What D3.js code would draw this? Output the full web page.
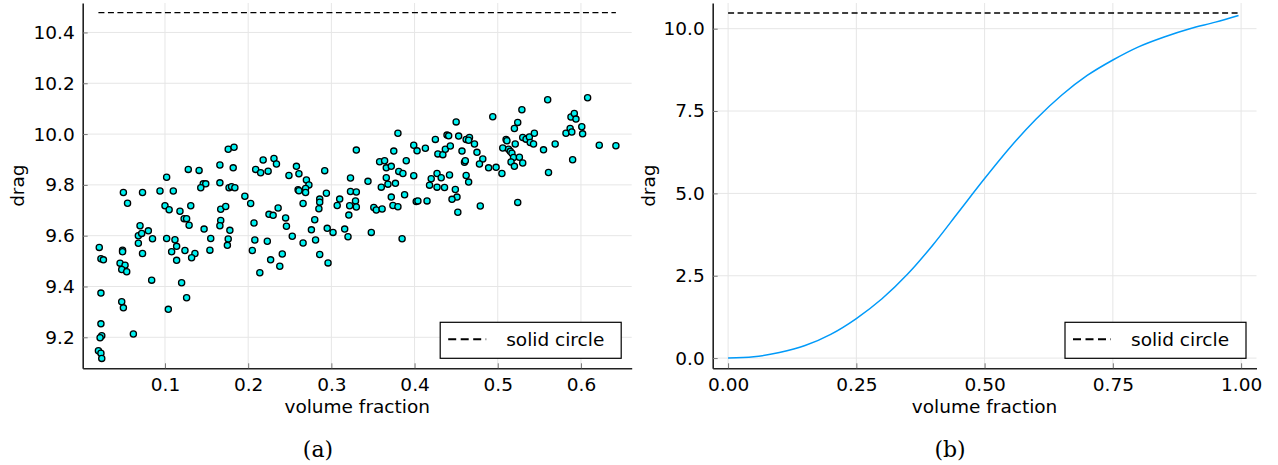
<!DOCTYPE html>
<html>
<head>
<meta charset="utf-8">
<script src="https://cdn.jsdelivr.net/npm/d3@7"></script>
<style>
  html, body { margin: 0; padding: 0; background: #fff; }
  svg { display: block; }
  text { font-family: "DejaVu Sans", sans-serif; fill: #000; }
</style>
</head>
<body>
<svg id="fig" width="1278" height="465"></svg>
<script>
// ---- sampled drag vs. volume fraction (random arrangements) ----
const volFrac = [
  0.102,0.128,0.141,0.166,0.050,0.073,0.094,0.110,0.055,0.146,0.149,0.143,0.166,0.100,0.105,0.118,0.131,0.167,0.123,0.126,0.129,0.167,0.166,0.147,0.070,
  0.080,0.068,0.072,0.021,0.023,0.026,0.049,0.049,0.046,0.052,0.048,0.054,0.068,0.073,0.085,0.102,0.112,0.114,0.108,0.114,0.124,0.136,0.132,0.155,0.154,
  0.084,0.120,0.023,0.048,0.050,0.126,0.104,0.023,0.024,0.022,0.062,0.020,0.023,0.024,
  0.176,0.183,0.182,0.177,0.180,0.184,0.173,0.218,0.231,0.234,0.209,0.215,0.224,0.258,0.261,0.249,0.292,0.270,0.273,0.269,0.260,0.261,0.269,0.196,0.203,
  0.266,0.286,0.286,0.285,0.294,0.310,0.307,0.330,0.323,0.323,0.330,0.329,0.330,0.322,0.321,0.225,0.230,0.236,0.245,0.246,0.280,0.207,0.276,0.295,0.316,
  0.178,0.176,0.175,0.208,0.205,0.223,0.214,0.227,0.241,0.238,0.253,0.266,0.281,0.286,0.296,0.302,0.320,
  0.380,0.450,0.494,0.399,0.403,0.413,0.425,0.439,0.441,0.453,0.462,0.466,0.465,0.472,0.375,0.358,0.364,0.366,0.372,0.390,0.381,0.386,0.366,0.368,0.377,
  0.360,0.344,0.399,0.428,0.434,0.437,0.443,0.457,0.475,0.460,0.461,0.482,0.478,0.489,0.427,0.420,0.432,0.442,0.462,0.465,0.418,0.427,0.436,0.449,0.451,
  0.445,0.452,0.479,0.388,0.372,0.374,0.380,0.402,0.404,0.415,0.351,0.354,0.361,
  0.348,0.385,
  0.560,0.608,0.529,0.524,0.520,0.510,0.511,0.506,0.513,0.515,0.517,0.521,0.530,0.534,0.538,0.544,0.539,0.543,0.519,0.526,0.516,0.530,0.520,0.498,0.505,
  0.555,0.569,0.561,0.524,0.582,0.587,0.589,0.588,0.592,0.594,0.601,0.602,0.590,0.622,0.642
];
const dragSample = [
  9.830,9.861,9.857,9.878,9.770,9.770,9.776,9.776,9.728,9.804,9.804,9.789,9.808,9.718,9.702,9.696,9.718,9.704,9.667,9.667,9.641,9.660,9.639,9.626,9.639,
  9.619,9.600,9.609,9.554,9.509,9.505,9.543,9.537,9.492,9.484,9.467,9.458,9.570,9.530,9.588,9.589,9.584,9.558,9.537,9.503,9.542,9.530,9.513,9.589,9.543,
  9.425,9.415,9.374,9.340,9.316,9.356,9.310,9.253,9.206,9.198,9.213,9.147,9.137,9.117,
  9.940,9.948,9.867,9.789,9.793,9.789,9.715,9.898,9.904,9.882,9.861,9.848,9.854,9.873,9.844,9.837,9.856,9.819,9.800,9.786,9.781,9.777,9.770,9.755,9.727,
  9.727,9.744,9.732,9.706,9.767,9.744,9.719,9.937,9.827,9.774,9.772,9.737,9.713,9.718,9.681,9.684,9.680,9.709,9.670,9.637,9.663,9.650,9.623,9.629,9.626,
  9.621,9.587,9.562,9.583,9.542,9.578,9.454,9.505,9.528,9.480,9.598,9.571,9.583,9.526,9.493,9.613,9.596,
  10.003,10.048,10.068,9.956,9.934,9.944,9.979,9.996,9.993,9.992,9.979,9.987,9.976,9.961,9.933,9.891,9.895,9.867,9.873,9.895,9.853,9.845,9.828,9.803,9.806,
  9.791,9.814,9.836,9.922,9.919,9.940,9.953,9.933,9.928,9.889,9.895,9.902,9.882,9.867,9.845,9.824,9.828,9.839,9.837,9.811,9.799,9.791,9.790,9.782,9.752,
  9.743,9.692,9.717,9.761,9.752,9.719,9.714,9.735,9.737,9.737,9.711,9.701,9.705,
  9.613,9.588,
  10.135,10.143,10.096,10.046,10.022,9.979,9.974,9.945,9.940,9.932,9.925,9.961,9.987,9.980,9.989,10.003,9.967,9.961,9.908,9.909,9.890,9.886,9.873,9.869,9.845,
  9.938,9.961,9.849,9.731,10.003,10.022,10.008,10.067,10.081,10.059,10.029,10.001,9.899,9.956,9.954
];

// ---- fitted drag curve over the full volume-fraction range ----
const curveFrac = [0.00,0.05,0.10,0.15,0.20,0.25,0.30,0.35,0.40,0.45,0.50,0.55,0.60,0.65,0.70,0.75,0.80,0.85,0.90,0.95,0.995];
const curveDrag = [0.00,0.04,0.17,0.38,0.72,1.20,1.80,2.55,3.45,4.45,5.45,6.40,7.25,7.98,8.58,9.05,9.45,9.75,10.00,10.20,10.40];

// drag of a single solid circle (reference level)
const solidCircleDrag = 10.478;

// tick values
const ticksAX = [0.1, 0.2, 0.3, 0.4, 0.5, 0.6];
const ticksAY = [9.2, 9.4, 9.6, 9.8, 10.0, 10.2, 10.4];
const ticksBX = [0.00, 0.25, 0.50, 0.75, 1.00];
const ticksBY = [0.0, 2.5, 5.0, 7.5, 10.0];

const svg = d3.select("#fig");
const FONT = 18.5;

function panel(opt) {
  const g = svg.append("g");
  const x = d3.scaleLinear().domain(opt.xDomain).range([opt.left, opt.right]);
  const y = d3.scaleLinear().domain(opt.yDomain).range([opt.bottom, opt.top]);

  // grid
  g.append("g").selectAll("line").data(opt.xTicks).join("line")
    .attr("x1", d => x(d)).attr("x2", d => x(d))
    .attr("y1", opt.top).attr("y2", opt.bottom)
    .attr("stroke", "#e6e6e6").attr("stroke-width", 1);
  g.append("g").selectAll("line").data(opt.yTicks).join("line")
    .attr("x1", opt.left).attr("x2", opt.right)
    .attr("y1", d => y(d)).attr("y2", d => y(d))
    .attr("stroke", "#e6e6e6").attr("stroke-width", 1);

  // axes (ticks pointing inward)
  const xAxis = d3.axisBottom(x).tickValues(opt.xTicks).tickFormat(opt.xFmt)
    .tickSizeInner(-5).tickSizeOuter(0).tickPadding(10);
  const yAxis = d3.axisLeft(y).tickValues(opt.yTicks).tickFormat(opt.yFmt)
    .tickSizeInner(-5).tickSizeOuter(0).tickPadding(8);
  const gx = g.append("g").attr("transform", `translate(0,${opt.bottom})`).call(xAxis);
  const gy = g.append("g").attr("transform", `translate(${opt.left},0)`).call(yAxis);
  [gx, gy].forEach(a => {
    a.select(".domain").attr("stroke", "#222").attr("stroke-width", 1.6);
    a.selectAll(".tick line").attr("stroke", "#777").attr("stroke-width", 1);
    a.selectAll(".tick text").style("font-family", "DejaVu Sans").style("font-size", FONT + "px").attr("fill", "#000");
  });

  // axis titles
  g.append("text").attr("x", (opt.left + opt.right) / 2).attr("y", 413)
    .attr("text-anchor", "middle").style("font-size", FONT + "px").text("volume fraction");
  g.append("text")
    .attr("transform", `translate(${opt.yTitleX},${(opt.top + opt.bottom) / 2}) rotate(-90)`)
    .attr("text-anchor", "middle").attr("dy", "0.35em").style("font-size", FONT + "px").text("drag");

  // solid-circle reference line
  g.append("line")
    .attr("x1", x(opt.hlineFrom)).attr("x2", x(opt.hlineTo))
    .attr("y1", y(solidCircleDrag)).attr("y2", y(solidCircleDrag))
    .attr("stroke", "#000").attr("stroke-width", 1.4).attr("stroke-dasharray", "6,3.5");

  opt.draw(g, x, y);

  // legend
  const lw = 181, lh = 36;
  const lx = opt.right - 10.5 - lw, ly = opt.bottom - 10 - lh;
  const lg = g.append("g").attr("transform", `translate(${lx},${ly})`);
  lg.append("rect").attr("width", lw).attr("height", lh)
    .attr("fill", "#fff").attr("stroke", "#000").attr("stroke-width", 1.2);
  lg.append("line").attr("x1", 8).attr("x2", 46).attr("y1", 17).attr("y2", 17)
    .attr("stroke", "#000").attr("stroke-width", 2).attr("stroke-dasharray", "8,4.5");
  lg.append("text").attr("x", 66).attr("y", 24).style("font-size", FONT + "px").text("solid circle");

  // caption
  svg.append("text").attr("x", opt.captionX).attr("y", 457).attr("text-anchor", "middle")
    .style("font-family", "'DejaVu Serif', 'Liberation Serif', serif").style("font-size", "22px")
    .text(opt.caption);
}

// (a) sampled drag
panel({
  left: 82.7, right: 631.7, top: 3, bottom: 368.3,
  xDomain: [0.0011, 0.661], yDomain: [9.078, 10.516],
  xTicks: ticksAX, yTicks: ticksAY,
  xFmt: d3.format(".1f"), yFmt: d3.format(".1f"),
  yTitleX: 18,
  hlineFrom: d3.min(volFrac), hlineTo: d3.max(volFrac),
  caption: "(a)", captionX: 318,
  draw: (g, x, y) => {
    g.append("g").selectAll("circle").data(volFrac).join("circle")
      .attr("cx", d => x(d)).attr("cy", (d, i) => y(dragSample[i]))
      .attr("r", 3.1).attr("fill", "#00f0f0").attr("stroke", "#000").attr("stroke-width", 1.3);
  }
});

// (b) drag curve
panel({
  left: 712.7, right: 1256.5, top: 3, bottom: 368.3,
  xDomain: [-0.03, 1.03], yDomain: [-0.31, 10.78],
  xTicks: ticksBX, yTicks: ticksBY,
  xFmt: d3.format(".2f"), yFmt: d3.format(".1f"),
  yTitleX: 649,
  hlineFrom: 0, hlineTo: 1,
  caption: "(b)", captionX: 950,
  draw: (g, x, y) => {
    const line = d3.line().x(d => x(d)).y((d, i) => y(curveDrag[i])).curve(d3.curveMonotoneX);
    g.append("path").datum(curveFrac).attr("d", line)
      .attr("fill", "none").attr("stroke", "#009af9").attr("stroke-width", 1.5);
  }
});
</script>
</body>
</html>
